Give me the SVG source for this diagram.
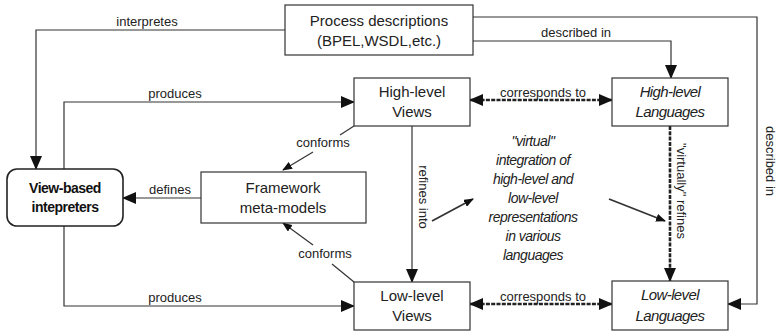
<svg xmlns="http://www.w3.org/2000/svg" width="777" height="333" viewBox="0 0 777 333">
<defs>
<marker id="ah" markerUnits="userSpaceOnUse" markerWidth="14" markerHeight="12" refX="13" refY="6" orient="auto-start-reverse" viewBox="0 0 14 12">
<path d="M0,0 L14,6 L0,12 Z" fill="#111"/>
</marker>
<marker id="as" markerUnits="userSpaceOnUse" markerWidth="10" markerHeight="8" refX="9" refY="4" orient="auto" viewBox="0 0 10 8">
<path d="M0,0 L10,4 L0,8 Z" fill="#111"/>
</marker>
<style>
.box{fill:#fff;stroke:#333;stroke-width:1.2}
.t{font-family:"Liberation Sans",Arial,sans-serif;font-size:15px;fill:#222;text-anchor:middle}
.ti{font-family:"Liberation Sans",Arial,sans-serif;font-size:15px;fill:#222;text-anchor:middle;font-style:italic;letter-spacing:-0.6px}
.tb{font-family:"Liberation Sans",Arial,sans-serif;font-size:14px;font-weight:bold;fill:#111;text-anchor:middle;letter-spacing:-0.5px}
.l{font-family:"Liberation Sans",Arial,sans-serif;font-size:13px;fill:#222;text-anchor:middle}
.c{font-family:"Liberation Sans",Arial,sans-serif;font-size:14px;fill:#222;text-anchor:middle;font-style:italic;letter-spacing:-0.5px}
.ln{fill:none;stroke:#333;stroke-width:1.2}
.lnd{fill:none;stroke:#222;stroke-width:2.6;stroke-dasharray:4 1.3}
</style>
</defs>
<g id="connectors">
<path class="ln" d="M285,30 H36 V169" marker-end="url(#ah)"/>
<path class="ln" d="M64,169 V102 H354" marker-end="url(#ah)"/>
<path class="ln" d="M473,41 H671 V78" marker-end="url(#ah)"/>
<path class="ln" d="M473,17 H757 V304 H728" marker-end="url(#ah)"/>
<path class="ln" d="M64,226 V306 H354" marker-end="url(#ah)"/>
<path class="ln" d="M201,198 H123" marker-end="url(#ah)"/>
<path class="ln" d="M412,126 V282" marker-end="url(#ah)"/>
<path class="lnd" d="M470,100 H612" marker-start="url(#ah)" marker-end="url(#ah)"/>
<path class="lnd" d="M470,304 H612" marker-start="url(#ah)" marker-end="url(#ah)"/>
<path class="lnd" d="M670,126 V281" marker-end="url(#ah)"/>
<path class="ln" d="M354,126 L340,135"/>
<path class="ln" d="M313,152 L283,170" marker-end="url(#as)"/>
<path class="ln" d="M354,282 L332,264"/>
<path class="ln" d="M313,245 L283,223" marker-end="url(#as)"/>
<path class="ln" style="stroke-width:1.8" d="M432,221 L473,199" marker-end="url(#as)"/>
<path class="ln" style="stroke-width:1.8" d="M609,199 L665,221" marker-end="url(#as)"/>
<text class="l" x="147" y="26">interpretes</text>
<text class="l" x="175" y="98">produces</text>
<text class="l" x="576" y="37">described in</text>
<text class="l" x="543" y="97">corresponds to</text>
<text class="l" x="323" y="147">conforms</text>
<text class="l" x="170" y="194">defines</text>
<text class="l" x="325" y="258">conforms</text>
<text class="l" x="175" y="302">produces</text>
<text class="l" x="543" y="301">corresponds to</text>
<text class="l" transform="translate(419,197) rotate(90)">refines into</text>
<text class="l" transform="translate(677,191) rotate(90)">"virtually" refines</text>
<text class="l" transform="translate(766,161) rotate(90)">described in</text>
</g>
<g id="process">
<rect class="box" x="285" y="5" width="188" height="50"/>
<text class="t" x="379" y="26">Process descriptions</text>
<text class="t" x="379" y="46">(BPEL,WSDL,etc.)</text>
</g>
<g id="hlviews">
<rect class="box" x="354" y="78" width="116" height="48"/>
<text class="t" x="412" y="97">High-level</text>
<text class="t" x="412" y="117">Views</text>
</g>
<g id="hllang">
<rect class="box" x="612" y="78" width="116" height="48"/>
<text class="ti" x="670" y="97">High-level</text>
<text class="ti" x="670" y="117">Languages</text>
</g>
<g id="viewbased">
<rect x="7" y="169" width="116" height="57" rx="10" ry="10" fill="#fff" stroke="#222" stroke-width="1.6"/>
<text class="tb" x="65" y="193">View-based</text>
<text class="tb" x="65" y="212">intepreters</text>
</g>
<g id="framework">
<rect class="box" x="201" y="172" width="165" height="51"/>
<text class="t" x="283" y="193">Framework</text>
<text class="t" x="283" y="213">meta-models</text>
</g>
<g id="llviews">
<rect class="box" x="354" y="282" width="116" height="48"/>
<text class="t" x="412" y="301">Low-level</text>
<text class="t" x="412" y="321">Views</text>
</g>
<g id="lllang">
<rect class="box" x="612" y="281" width="116" height="49"/>
<text class="ti" x="670" y="300">Low-level</text>
<text class="ti" x="670" y="321">Languages</text>
</g>
<g id="integration">
<text class="c" x="533" y="146">"virtual"</text>
<text class="c" x="533" y="165">integration of</text>
<text class="c" x="533" y="184">high-level and</text>
<text class="c" x="533" y="203">low-level</text>
<text class="c" x="533" y="222">representations</text>
<text class="c" x="533" y="241">in various</text>
<text class="c" x="533" y="260">languages</text>
</g>
</svg>
